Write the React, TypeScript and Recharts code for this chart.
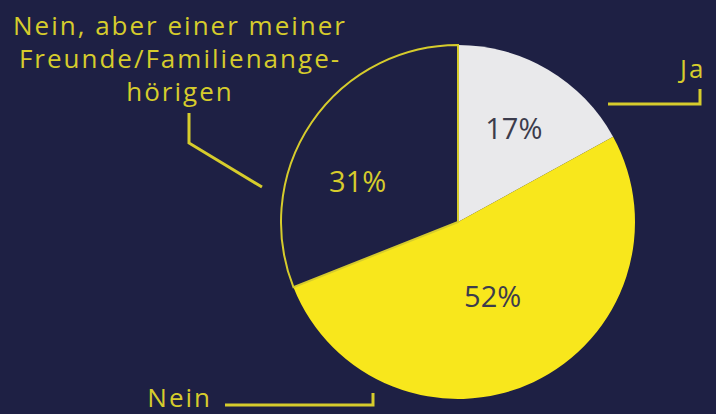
import { Cell, Pie, PieChart } from "recharts";

// Survey answers (share in %)
const CATEGORIES = ["Ja", "Nein", "Nein, aber einer meiner Freunde/Familienangehörigen"];
const SHARES = [17, 52, 31];
const CALLOUT_LINES = [["Ja"], ["Nein"], ["Nein, aber einer meiner", "Freunde/Familienange-", "hörigen"]];

const BG = "#1e2044";
const YELLOW = "#f8e71c";
const LINE_YELLOW = "#d6cc2c";
const GREY = "#e9e9eb";
const DARK_TEXT = "#3c3c4c";
const FONT = "'Open Sans', Lato, sans-serif";

const FILLS = [GREY, YELLOW, BG];
const PCT_COLORS = [DARK_TEXT, DARK_TEXT, LINE_YELLOW];

// label placement, relative to pie centre
const PCT_RADIUS = [0.62, 0.46, 0.61];
const PCT_NUDGE: [number, number][] = [[0, 0], [0, 0], [-11, 19]];
const CALLOUT_TEXT: { dx: number; dy: number; anchor: "start" | "middle" | "end" }[] = [
  { dx: 222, dy: -144, anchor: "start" },
  { dx: -246, dy: 185, anchor: "end" },
  { dx: -278, dy: -187, anchor: "middle" },
];
const CALLOUT_PATH: [number, number][][] = [
  [[150, -118], [242, -118], [242, -133]],
  [[-233, 183], [-85, 183], [-85, 171]],
  [[-269, -109], [-269, -79], [-196, -35]],
];

const data = CATEGORIES.map((name, i) => ({ name, value: SHARES[i] }));

const RADIAN = Math.PI / 180;

function renderLabel(props: any) {
  const { cx, cy, midAngle, outerRadius, index, value } = props;
  const r = outerRadius * PCT_RADIUS[index];
  const x = cx + r * Math.cos(-midAngle * RADIAN) + PCT_NUDGE[index][0];
  const y = cy + r * Math.sin(-midAngle * RADIAN) + PCT_NUDGE[index][1];
  const t = CALLOUT_TEXT[index];
  const pts = CALLOUT_PATH[index].map(([px, py]) => `${cx + px},${cy + py}`).join(" ");
  return (
    <g key={`lbl-${index}`}>
      <text
        x={x}
        y={y}
        fill={PCT_COLORS[index]}
        fontSize={29}
        fontFamily={FONT}
        textAnchor="middle"
        dominantBaseline="central"
      >
        {value}%
      </text>
      <polyline points={pts} fill="none" stroke={LINE_YELLOW} strokeWidth={3} />
      {CALLOUT_LINES[index].map((line, j) => (
        <text
          key={j}
          x={cx + t.dx}
          y={cy + t.dy + j * 33}
          fill={LINE_YELLOW}
          fontSize={26}
          fontFamily={FONT}
          letterSpacing={2}
          textAnchor={t.anchor}
        >
          {line}
        </text>
      ))}
    </g>
  );
}

export default function App() {
  return (
    <div style={{ position: "fixed", left: 0, top: 0, width: 716, height: 414, background: BG }}>
      <PieChart width={716} height={414} margin={{ top: 0, right: 0, bottom: 0, left: 0 }}>
        <Pie
          data={data}
          dataKey="value"
          nameKey="name"
          cx={458}
          cy={222}
          outerRadius={177}
          startAngle={90}
          endAngle={-270}
          label={renderLabel}
          labelLine={false}
          isAnimationActive={false}
        >
          {data.map((d, i) => (
            <Cell
              key={d.name}
              fill={FILLS[i]}
              stroke={i === 2 ? LINE_YELLOW : FILLS[i]}
              strokeWidth={i === 2 ? 2 : 0}
            />
          ))}
        </Pie>
      </PieChart>
    </div>
  );
}
